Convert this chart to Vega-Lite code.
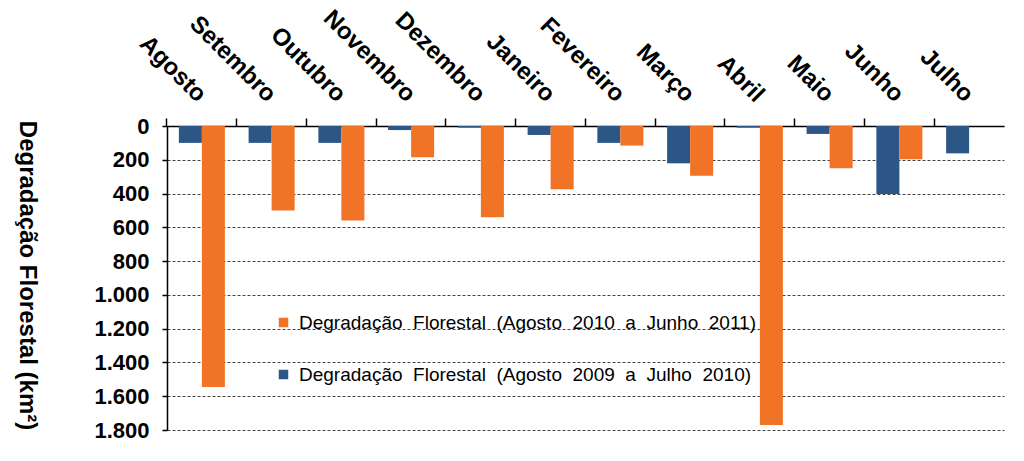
{
  "$schema": "https://vega.github.io/schema/vega-lite/v6.json",
  "width": 837,
  "height": 304,
  "autosize": {"type": "none"},
  "padding": {"left": 167, "top": 126, "right": 20, "bottom": 31},
  "background": "white",
  "config": {"view": {"stroke": null}, "font": "Liberation Sans"},
  "data": {
    "values": [
      {"mes": "Agosto", "serie": "Degradação\u00a0 Florestal\u00a0 (Agosto\u00a0 2009\u00a0 a\u00a0 Julho\u00a0 2010)", "valor": 100},
      {"mes": "Agosto", "serie": "Degradação\u00a0 Florestal\u00a0 (Agosto\u00a0 2010\u00a0 a\u00a0 Junho\u00a0 2011)", "valor": 1545},
      {"mes": "Setembro", "serie": "Degradação\u00a0 Florestal\u00a0 (Agosto\u00a0 2009\u00a0 a\u00a0 Julho\u00a0 2010)", "valor": 100},
      {"mes": "Setembro", "serie": "Degradação\u00a0 Florestal\u00a0 (Agosto\u00a0 2010\u00a0 a\u00a0 Junho\u00a0 2011)", "valor": 500},
      {"mes": "Outubro", "serie": "Degradação\u00a0 Florestal\u00a0 (Agosto\u00a0 2009\u00a0 a\u00a0 Julho\u00a0 2010)", "valor": 100},
      {"mes": "Outubro", "serie": "Degradação\u00a0 Florestal\u00a0 (Agosto\u00a0 2010\u00a0 a\u00a0 Junho\u00a0 2011)", "valor": 560},
      {"mes": "Novembro", "serie": "Degradação\u00a0 Florestal\u00a0 (Agosto\u00a0 2009\u00a0 a\u00a0 Julho\u00a0 2010)", "valor": 24},
      {"mes": "Novembro", "serie": "Degradação\u00a0 Florestal\u00a0 (Agosto\u00a0 2010\u00a0 a\u00a0 Junho\u00a0 2011)", "valor": 185},
      {"mes": "Dezembro", "serie": "Degradação\u00a0 Florestal\u00a0 (Agosto\u00a0 2009\u00a0 a\u00a0 Julho\u00a0 2010)", "valor": 10},
      {"mes": "Dezembro", "serie": "Degradação\u00a0 Florestal\u00a0 (Agosto\u00a0 2010\u00a0 a\u00a0 Junho\u00a0 2011)", "valor": 540},
      {"mes": "Janeiro", "serie": "Degradação\u00a0 Florestal\u00a0 (Agosto\u00a0 2009\u00a0 a\u00a0 Julho\u00a0 2010)", "valor": 53},
      {"mes": "Janeiro", "serie": "Degradação\u00a0 Florestal\u00a0 (Agosto\u00a0 2010\u00a0 a\u00a0 Junho\u00a0 2011)", "valor": 375},
      {"mes": "Fevereiro", "serie": "Degradação\u00a0 Florestal\u00a0 (Agosto\u00a0 2009\u00a0 a\u00a0 Julho\u00a0 2010)", "valor": 100},
      {"mes": "Fevereiro", "serie": "Degradação\u00a0 Florestal\u00a0 (Agosto\u00a0 2010\u00a0 a\u00a0 Junho\u00a0 2011)", "valor": 116},
      {"mes": "Março", "serie": "Degradação\u00a0 Florestal\u00a0 (Agosto\u00a0 2009\u00a0 a\u00a0 Julho\u00a0 2010)", "valor": 221},
      {"mes": "Março", "serie": "Degradação\u00a0 Florestal\u00a0 (Agosto\u00a0 2010\u00a0 a\u00a0 Junho\u00a0 2011)", "valor": 294},
      {"mes": "Abril", "serie": "Degradação\u00a0 Florestal\u00a0 (Agosto\u00a0 2009\u00a0 a\u00a0 Julho\u00a0 2010)", "valor": 10},
      {"mes": "Abril", "serie": "Degradação\u00a0 Florestal\u00a0 (Agosto\u00a0 2010\u00a0 a\u00a0 Junho\u00a0 2011)", "valor": 1770},
      {"mes": "Maio", "serie": "Degradação\u00a0 Florestal\u00a0 (Agosto\u00a0 2009\u00a0 a\u00a0 Julho\u00a0 2010)", "valor": 47},
      {"mes": "Maio", "serie": "Degradação\u00a0 Florestal\u00a0 (Agosto\u00a0 2010\u00a0 a\u00a0 Junho\u00a0 2011)", "valor": 250},
      {"mes": "Junho", "serie": "Degradação\u00a0 Florestal\u00a0 (Agosto\u00a0 2009\u00a0 a\u00a0 Julho\u00a0 2010)", "valor": 402},
      {"mes": "Junho", "serie": "Degradação\u00a0 Florestal\u00a0 (Agosto\u00a0 2010\u00a0 a\u00a0 Junho\u00a0 2011)", "valor": 197},
      {"mes": "Julho", "serie": "Degradação\u00a0 Florestal\u00a0 (Agosto\u00a0 2009\u00a0 a\u00a0 Julho\u00a0 2010)", "valor": 162}
    ]
  },
  "mark": {"type": "bar"},
  "encoding": {
    "x": {
      "field": "mes",
      "type": "nominal",
      "sort": ["Agosto", "Setembro", "Outubro", "Novembro", "Dezembro", "Janeiro", "Fevereiro", "Março", "Abril", "Maio", "Junho", "Julho"],
      "scale": {"paddingInner": 0.34, "paddingOuter": 0.17},
      "axis": {
        "orient": "top",
        "title": null,
        "labelAngle": 45,
        "labelAlign": "right",
        "labelBaseline": "middle",
        "labelFontSize": 24,
        "labelFontWeight": "bold",
        "labelColor": "#000000",
        "labelPadding": 20,
        "tickSize": 8,
        "tickColor": "#000000",
        "tickWidth": 1.5,
        "bandPosition": -0.258,
        "domainColor": "#000000",
        "domainWidth": 1.5,
        "grid": false
      }
    },
    "xOffset": {
      "field": "serie",
      "sort": ["Degradação\u00a0 Florestal\u00a0 (Agosto\u00a0 2009\u00a0 a\u00a0 Julho\u00a0 2010)", "Degradação\u00a0 Florestal\u00a0 (Agosto\u00a0 2010\u00a0 a\u00a0 Junho\u00a0 2011)"]
    },
    "y": {
      "field": "valor",
      "type": "quantitative",
      "scale": {"domain": [0, 1800], "reverse": true, "nice": false},
      "axis": {
        "values": [0, 200, 400, 600, 800, 1000, 1200, 1400, 1600, 1800],
        "labelExpr": "replace(format(datum.value, ','), ',', '.')",
        "labelFontSize": 22,
        "labelFontWeight": "bold",
        "labelColor": "#000000",
        "labelPadding": 13,
        "tickSize": 5,
        "tickColor": "#000000",
        "tickWidth": 1.5,
        "domainColor": "#000000",
        "domainWidth": 1.5,
        "grid": true,
        "gridColor": "#444444",
        "gridDash": [3, 2],
        "gridWidth": 1,
        "title": "Degradação Florestal (km²)",
        "titleAngle": 90,
        "titleFontSize": 24,
        "titleFontWeight": "bold",
        "titleColor": "#000000",
        "titleX": -141,
        "titleY": 149,
        "titleAlign": "center",
        "titleBaseline": "middle"
      }
    },
    "color": {
      "field": "serie",
      "type": "nominal",
      "scale": {
        "domain": ["Degradação\u00a0 Florestal\u00a0 (Agosto\u00a0 2010\u00a0 a\u00a0 Junho\u00a0 2011)", "Degradação\u00a0 Florestal\u00a0 (Agosto\u00a0 2009\u00a0 a\u00a0 Julho\u00a0 2010)"],
        "range": ["#f07326", "#2c5686"]
      },
      "legend": {
        "orient": "none",
        "legendX": 107,
        "legendY": 187,
        "title": null,
        "symbolType": "square",
        "symbolSize": 90,
        "symbolStrokeWidth": 0,
        "labelFontSize": 19,
        "labelColor": "#000000",
        "labelFontWeight": 500,
        "labelLimit": 700,
        "rowPadding": 32,
        "labelOffset": 6
      }
    }
  }
}
